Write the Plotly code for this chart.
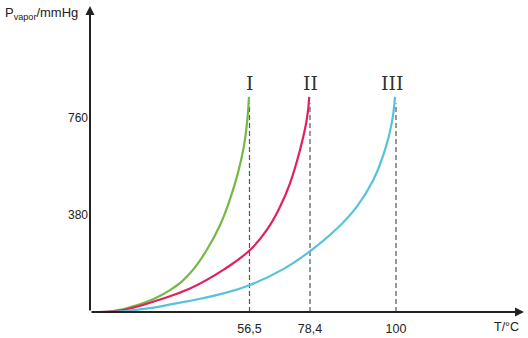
import plotly.graph_objects as go

# Schematic x position (axis units) and vapour pressure (mmHg)
green_x = [5, 20, 50, 80, 100, 116.7, 130, 140, 148.3, 154, 157.3, 159]
green_p = [0, 2, 30, 86, 152, 243, 340, 442, 550, 652, 753, 843]

red_x = [8, 33.3, 66.7, 100, 133.3, 160, 176.7, 190, 200, 210, 216.7, 219.3]
red_p = [0, 8, 45, 92, 165, 243, 321, 412, 504, 635, 752, 843]

cyan_x = [10, 33, 60, 83.3, 110, 133.3, 160, 193.3, 220, 246.7, 266.7, 283.3, 295, 301.7, 305]
cyan_p = [0, 3, 15, 32, 52, 73, 106, 168, 238, 326, 412, 517, 635, 739, 843]

series_names = ["I", "II", "III"]
boil_pos = [159.5, 220, 306]          # schematic positions of boiling points
boil_labels = ["56,5", "78,4", "100"]
boil_top = [843, 843, 843]
y_ticks = [380, 760]

colors = ["#74b944", "#e2205e", "#56c2db"]

fig = go.Figure()
# dashed vertical guides
for xp, top in zip(boil_pos, boil_top):
    fig.add_trace(go.Scatter(x=[xp, xp], y=[0, top - 25], mode="lines",
                             line=dict(color="#555555", width=1.2, dash="5px,3px"),
                             showlegend=False, hoverinfo="skip"))
for xs, ps, c, n in zip([green_x, red_x, cyan_x], [green_p, red_p, cyan_p], colors, series_names):
    fig.add_trace(go.Scatter(x=xs, y=ps, mode="lines", name=n,
                             line=dict(color=c, width=2.2, shape="spline", smoothing=1.3),
                             showlegend=False, hoverinfo="skip"))

XMAX = 430
YMAX = 1191

fig.update_layout(
    width=528, height=338,
    margin=dict(l=90, r=8, t=8, b=26),
    paper_bgcolor="white", plot_bgcolor="white",
    font=dict(family="Liberation Sans, Arial, sans-serif", size=12, color="#222"),
    xaxis=dict(range=[0, XMAX], showgrid=False, zeroline=False, showline=False,
               automargin=False,
               tickvals=boil_pos, ticktext=boil_labels, ticks="",
               ticklabelstandoff=7, tickfont=dict(size=12.5, color="#222")),
    yaxis=dict(range=[0, YMAX], showgrid=False, zeroline=False, showline=False,
               automargin=False,
               tickvals=y_ticks, ticktext=[str(v) for v in y_ticks], ticks="",
               ticklabelstandoff=1, tickfont=dict(size=12, color="#222")),
)

W, H = 528, 338
pl, pb, pw, ph = 90, 26, 430, 304
def px(xp): return (xp - pl) / pw
def py(yp): return (H - yp - pb) / ph

annotations = []
# axes with arrows
annotations.append(dict(x=XMAX + 4, y=0, ax=0, ay=0, xref="x", yref="y", axref="x", ayref="y",
                        showarrow=True, arrowhead=2, arrowsize=0.9, arrowwidth=2,
                        arrowcolor="#222", text=""))
annotations.append(dict(x=0, y=YMAX + 8, ax=0, ay=0, xref="x", yref="y", axref="x", ayref="y",
                        showarrow=True, arrowhead=2, arrowsize=0.9, arrowwidth=2,
                        arrowcolor="#222", text=""))
# roman numerals
for xp, n, top in zip(boil_pos, series_names, boil_top):
    annotations.append(dict(x=xp - (4 if n == "III" else 0), y=top, xref="x", yref="y",
                            text=n, showarrow=False, yanchor="bottom", yshift=1,
                            font=dict(family="DejaVu Serif, Liberation Serif, serif",
                                      size=19, color="#333")))
annotations.append(dict(x=px(506.7), y=py(327), xref="paper", yref="paper", text="T/°C",
                        showarrow=False, xanchor="center", yanchor="middle",
                        font=dict(size=12.5, color="#222")))
annotations.append(dict(x=px(3), y=py(13), xref="paper", yref="paper",
                        text="P<sub>vapor</sub>/mmHg", showarrow=False,
                        xanchor="left", yanchor="middle",
                        font=dict(size=13, color="#222")))
fig.update_layout(annotations=annotations)

fig.write_html("out.html")
